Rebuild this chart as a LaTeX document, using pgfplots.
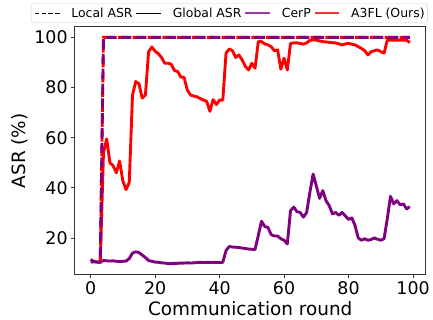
\documentclass[border=0pt]{standalone}
\usepackage{fontspec}
\setmainfont{DejaVu Sans}
\usepackage{pgfplots}
\pgfplotsset{compat=1.18}
\definecolor{mpurple}{RGB}{128,0,128}
\definecolor{mred}{RGB}{255,0,0}
\definecolor{lpurple}{RGB}{160,60,170}
\definecolor{lred}{RGB}{255,50,50}
\begin{document}
\begin{tikzpicture}
\begin{axis}[
 scale only axis, width=353pt, height=249pt,
 xmin=-4.95, xmax=103.95, ymin=5.4, ymax=104.2,
 xtick={0,20,40,60,80,100}, ytick={20,40,60,80,100},
 tick align=outside, tick pos=left, major tick length=3.5pt,
 axis line style={black!80, line width=0.8pt},
 every tick/.style={black!80, line width=0.8pt},
 /pgf/number format/assume math mode=true,
 ticklabel style={font=\fontsize{17.5}{20}\selectfont},
 label style={font=\fontsize{18.5}{22}\selectfont},
 xlabel={Communication round}, ylabel={ASR (\%)},
 legend columns=4, legend cell align=left,
 legend style={at={(1.0057,1.016)}, anchor=south east,
   font=\fontsize{12.5}{14}\selectfont, draw=black!20, rounded corners=2pt, fill=white,
   inner xsep=3pt, inner ysep=2pt,
   nodes={inner xsep=0pt},
   /tikz/every odd column/.append style={column sep=11pt},
   /tikz/every even column/.append style={column sep=3pt}},
]
\addlegendimage{legend image code/.code={\draw[black, line width=1.4pt, dash pattern=on 4.6pt off 2.2pt] (0pt,0pt) -- (25pt,0pt);}}
\addlegendentry{Local ASR}
\addlegendimage{legend image code/.code={\draw[black, line width=1.4pt] (0pt,0pt) -- (25pt,0pt);}}
\addlegendentry{Global ASR}
\addlegendimage{legend image code/.code={\draw[lpurple, line width=1.6pt] (0pt,0pt) -- (25pt,0pt);}}
\addlegendentry{CerP}
\addlegendimage{legend image code/.code={\draw[lred, line width=1.6pt] (0pt,0pt) -- (25pt,0pt);}}
\addlegendentry{A3FL (Ours)}

% CerP global ASR
\addplot[forget plot, draw=mpurple, line width=2.9pt, line join=round] coordinates {
(0,11.4)(1,10.7)(2,10.4)(3,10.4)(4,11)(5,10.9)(6,10.8)(7,10.9)(8,10.7)(9,10.6)
(10,10.7)(11,10.8)(12,11.8)(13,14)(14,14.5)(15,14.2)(16,13.2)(17,12.2)(18,11)(19,10.7)
(20,10.4)(21,10.3)(22,10.1)(23,10)(24,9.8)(25,9.8)(26,9.9)(27,9.9)(28,10)(29,10)
(30,10.1)(31,10)(32,10.1)(33,10.2)(34,10.3)(35,10.2)(36,10.3)(37,10.3)(38,10.2)(39,10.3)
(40,10.2)(41,10.3)(42,15)(43,16.6)(44,16.4)(45,16.3)(46,16.2)(47,16)(48,15.8)(49,15.6)
(50,15.5)(51,15.4)(52,21)(53,26.7)(54,24.6)(55,24.2)(56,21.3)(57,20.8)(58,20.8)(59,19.7)
(60,19.1)(61,17.6)(62,30.9)(63,32.3)(64,30.5)(65,30.2)(66,28.3)(67,30.2)(68,38.2)(69,45.5)
(70,40.8)(71,35.8)(72,38.9)(73,34.9)(74,32.9)(75,29.6)(76,30.2)(77,29)(78,30.2)(79,28.8)
(80,27.4)(81,28)(82,25)(83,20)(84,19.1)(85,19.7)(86,19.1)(87,19.4)(88,20)(89,19.5)
(90,19.1)(91,19.7)(92,27.6)(93,36.6)(94,33.6)(95,34.9)(96,33.2)(97,33.6)(98,31.6)(99,32.5)
};
% A3FL global ASR
\addplot[forget plot, draw=mred, line width=2.9pt, line join=round] coordinates {
(3,10)(4,54)(5,59.5)(6,50)(7,48.8)(8,46)(9,50.7)
(10,42.8)(11,39.3)(12,42.2)(13,77)(14,82.4)(15,81.5)(16,75.8)(17,77)(18,94.3)(19,96.2)
(20,94.5)(21,93.5)(22,92)(23,89.7)(24,89.7)(25,89.3)(26,86.8)(27,86.4)(28,84.2)(29,84)
(30,79)(31,77)(32,76.6)(33,76.3)(34,75.6)(35,75)(36,74.5)(37,70.5)(38,75.2)(39,73.2)
(40,75)(41,75)(42,93.7)(43,95.4)(44,94.7)(45,92)(46,93)(47,91)(48,88.4)(49,87)
(50,89.7)(51,87.7)(52,98.3)(53,98.3)(54,97.4)(55,97)(56,96.3)(57,94.7)(58,95)(59,87.3)
(60,91.7)(61,87)(62,97.6)(63,97.8)(64,97.8)(65,97.6)(66,97.3)(67,97.8)(68,98.8)(69,99)
(70,98.9)(71,98.6)(72,98.3)(73,98.2)(74,98)(75,97.9)(76,97.8)(77,97.4)(78,97)(79,97.4)
(80,97.6)(81,97.3)(82,97)(83,96.3)(84,95.6)(85,94.7)(86,93)(87,94.3)(88,94.7)(89,95)
(90,94.3)(91,93.7)(92,98.9)(93,98.9)(94,98.9)(95,98.9)(96,98.9)(97,98.9)(98,98.9)(99,97.9)
};
% A3FL local ASR
\addplot[forget plot, draw=mred, line width=2.9pt, dash pattern=on 10.4pt off 4.5pt, dash phase=13pt] coordinates {
(3,10.4)(4,100)(20,100)(40,100)(60,100)(80,100)(99,100)
};
% CerP local ASR
\addplot[forget plot, draw=mpurple, line width=2.9pt, dash pattern=on 10.4pt off 4.5pt] coordinates {
(0,10.5)(1,10.5)(2,10.4)(3,10.4)(4,100)(20,100)(40,100)(60,100)(80,100)(99,100)
};
\end{axis}
\path ([xshift=-75pt,yshift=-45pt]current axis.south west) rectangle ([xshift=5pt,yshift=27pt]current axis.north east);
\end{tikzpicture}
\end{document}
